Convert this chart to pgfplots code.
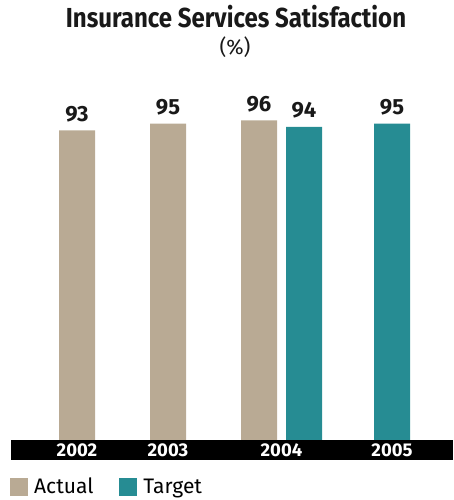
\documentclass[border=0pt]{standalone}
\usepackage{fontspec}
\setmainfont{Fira Sans}
\usepackage{pgfplots}
\pgfplotsset{compat=1.18}
\definecolor{actualtan}{HTML}{B9AA94}
\definecolor{targetteal}{HTML}{268C93}
\begin{document}
\begin{tikzpicture}
\begin{axis}[
  at={(0,0)}, anchor=south west,
  scale only axis, width=442pt, height=333pt,
  xmin=11, xmax=453, ymin=0, ymax=100,
  set layers, clip=false,
  axis line style={draw=none},
  ytick=\empty,
  xtick={77,168,281.5,392},
  xticklabels={2002,2003,2004,2005},
  major tick length=0pt,
  xticklabel style={anchor=center, yshift=-10pt, text=white,
    font=\bfseries\fontsize{18.5}{18.5}\selectfont},
  ybar, bar width=36pt, bar shift=0pt,
  /pgf/number format/assume math mode=true,
  nodes near coords,
  every node near coord/.append style={anchor=base, yshift=9pt,
    text=black!90, font=\bfseries\fontsize{22}{22}\selectfont},
  legend columns=2,
  legend style={draw=none, fill=none, inner sep=0pt,
    at={(axis cs:10,-10.8)}, anchor=north west,
    font=\fontsize{21}{21}\selectfont,
    /tikz/every odd column/.append style={column sep=4pt},
    /tikz/every even column/.append style={column sep=24pt}},
  legend image code/.code={\fill[#1,draw=none] (0pt,-9pt) rectangle (18pt,9pt);},
]
% black strip under the bars carrying the year labels
\begin{pgfonlayer}{axis background}
\fill[black] (rel axis cs:0,0) rectangle ([yshift=-20pt]rel axis cs:1,0);
\end{pgfonlayer}
\addplot[fill=actualtan, draw=none] coordinates {(77,93) (168,95) (259,96)};
\addlegendentry{Actual}
\addplot[fill=targetteal, draw=none] coordinates {(304,94) (392,95)};
\addlegendentry{Target}
\end{axis}
\node[anchor=base, font=\bfseries\fontsize{25}{25}\selectfont, text=black!90] at (225pt,412pt) {\scalebox{0.96}[1.1]{Insurance Services Satisfaction}};
\node[anchor=base, font=\fontsize{21}{21}\selectfont, text=black!90] at (224pt,385pt) {(\%)};
\path (-11pt,-60pt) rectangle (442pt,440pt);
\end{tikzpicture}
\end{document}
